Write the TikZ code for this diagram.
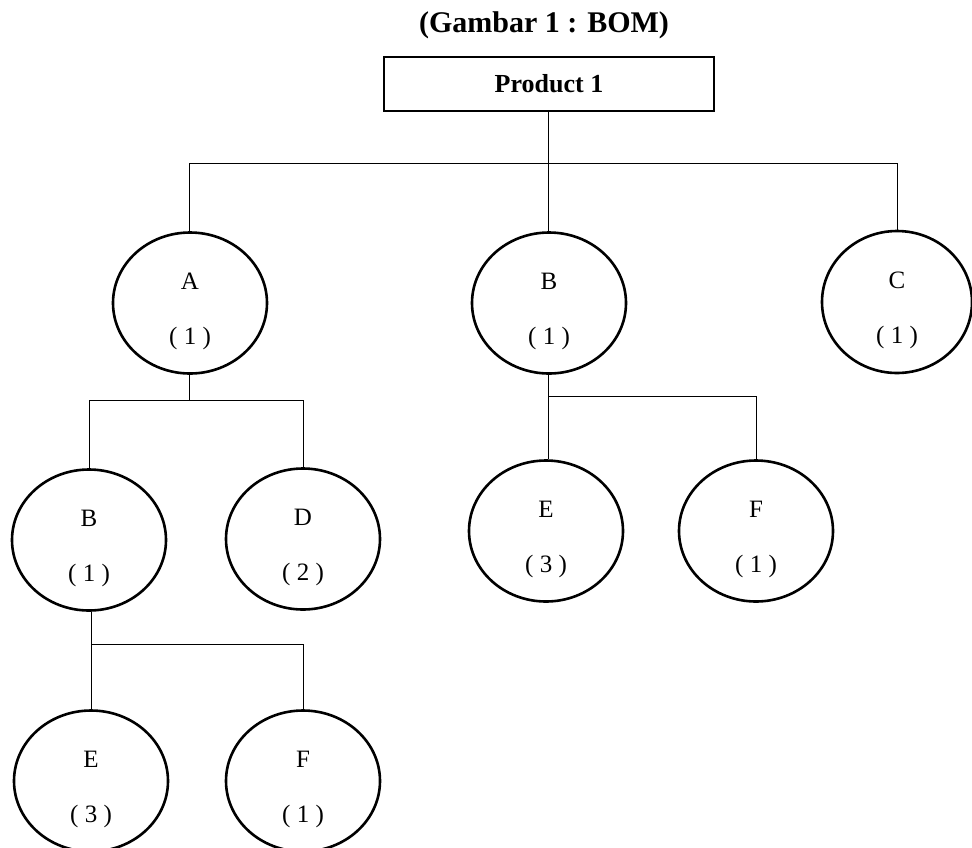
\documentclass[tikz,border=0pt]{standalone}
\usepackage{fontspec}
\setmainfont{Liberation Serif}
\usetikzlibrary{shapes.geometric}
\begin{document}
\begin{tikzpicture}[x=1pt,y=-1pt,
  part/.style={draw,ellipse,line width=2.6pt,minimum width=154pt,minimum height=141pt,inner sep=0pt},
  lbl/.style={font=\fontsize{25}{29}\selectfont,inner sep=0pt},
  conn/.style={line width=1pt},
  topbox/.style={draw,line width=2.4pt,minimum width=330pt,minimum height=54pt,inner sep=0pt,font=\fontsize{26}{30}\selectfont\bfseries}]
\useasboundingbox (0,0) rectangle (972,847);
\clip (0,0) rectangle (972,847);
\node[font=\fontsize{30}{34}\selectfont\bfseries,inner sep=0pt] (title) at (544,25) {(Gambar 1 : BOM)};
\node[topbox] (p) at (549,84) {Product 1};
% level 1
\node[part] (a) at (190,303) {};
\node[part] (b1) at (549,303) {};
\node[part,minimum width=150pt,minimum height=142pt] (c) at (897,302) {};
% level 2
\node[part] (b2) at (89,540) {};
\node[part] (d) at (303,539) {};
\node[part] (e1) at (546,531) {};
\node[part] (f1) at (756,531) {};
% level 3
\node[part] (e2) at (91,781) {};
\node[part] (f2) at (303,781) {};
% labels
\foreach \n/\t/\q in {a/A/( 1 ),b1/B/( 1 ),c/C/( 1 ),b2/B/( 1 ),d/D/( 2 ),e1/E/( 3 ),f1/F/( 1 ),e2/E/( 3 ),f2/F/( 1 )}{
  \node[lbl] (\n t) at ([yshift=22pt]\n.center) {\t};
  \node[lbl] (\n q) at ([yshift=-35pt]\n.center) {\q};
}
% junction coordinates
\coordinate (j0) at (548,163);
\coordinate (ja) at (189,400);
\coordinate (jb) at (548,396);
\coordinate (jb2) at (91,644);
% connectors
\draw[conn] (p.south -| j0) -- (j0);
\draw[conn] (a.north -| ja) -- (ja |- j0) -- (c.north |- j0) -- (c.north);
\draw[conn] (j0) -- (b1.north -| j0);
\draw[conn] (a.south -| ja) -- (ja);
\draw[conn] (b2.north) -- (b2.north |- ja) -- (d.north |- ja) -- (d.north);
\draw[conn] (b1.south -| jb) -- (e1.north -| jb);
\draw[conn] (jb) -- (f1.north |- jb) -- (f1.north);
\draw[conn] (b2.south -| jb2) -- (e2.north -| jb2);
\draw[conn] (jb2) -- (f2.north |- jb2) -- (f2.north);
\end{tikzpicture}
\end{document}
